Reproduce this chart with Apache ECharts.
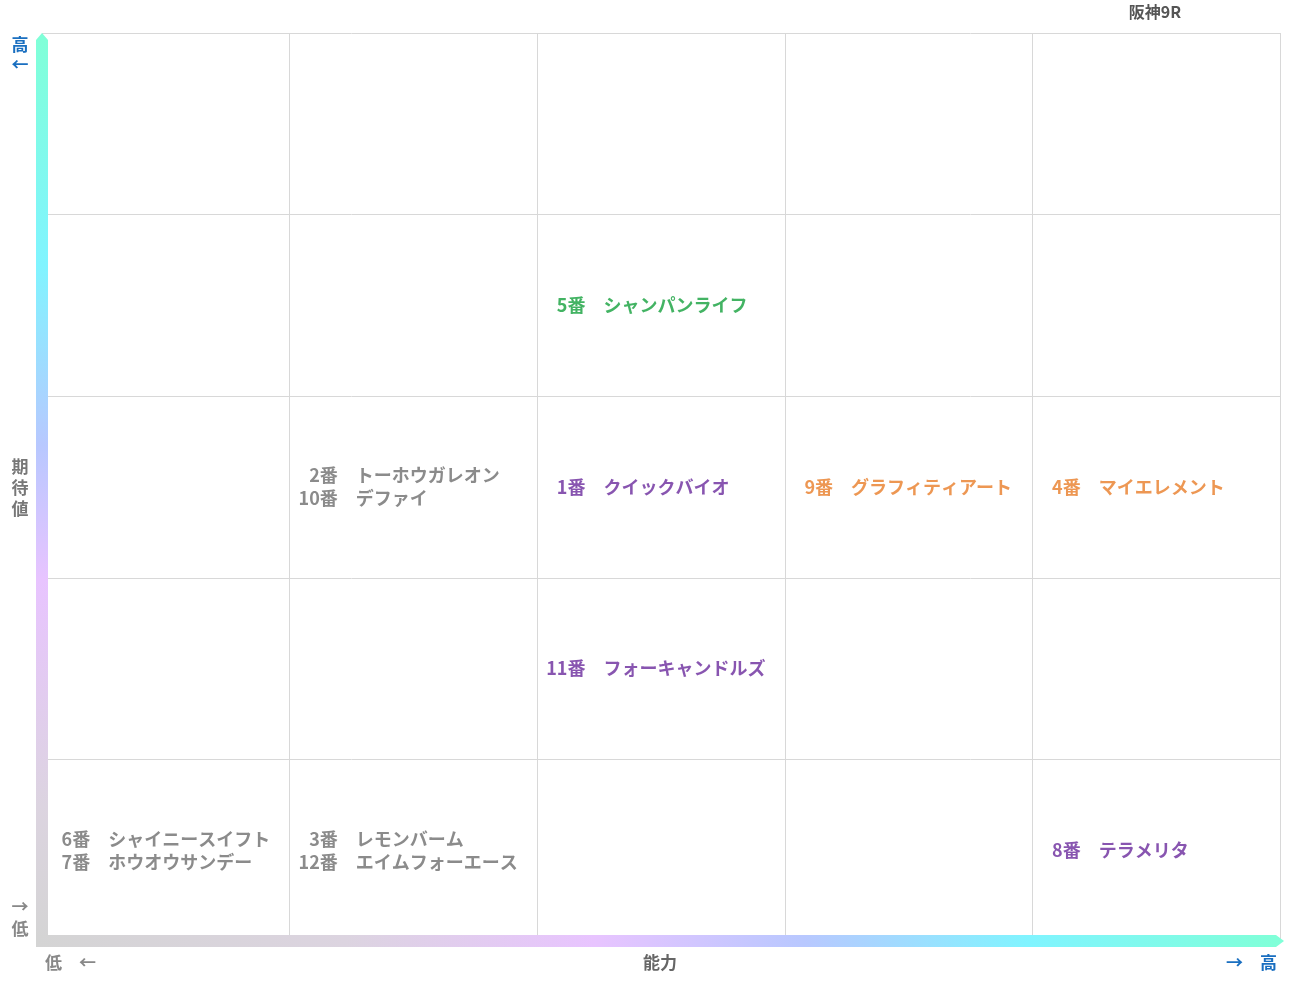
<!DOCTYPE html>
<html><head><meta charset="utf-8">
<script src="https://cdn.jsdelivr.net/npm/echarts@6/dist/echarts.min.js"></script>
<style>html,body{margin:0;padding:0;background:#fff}#c{width:1291px;height:983px}</style>
</head><body><div id="c"></div>
<script>
const xTicks = [0,1,2,3,4,5];
const labels = ['\u20075番　シャンパンライフ','\u20072番　トーホウガレオン\n10番　デファイ','\u20071番　クイックバイオ','\u20079番　グラフィティアート','\u20074番　マイエレメント','11番　フォーキャンドルズ','\u20076番　シャイニースイフト\n\u20077番　ホウオウサンデー','\u20073番　レモンバーム\n12番　エイムフォーエース','\u20078番　テラメリタ'];
const abilityCol = [3,2,3,4,5,3,1,2,5];
const expectRow = [4,3,3,3,3,2,1,1,1];
const colors = ['#14a03c','#6e6e6e','#6a2a9c','#e87d28','#e87d28','#6a2a9c','#6e6e6e','#6e6e6e','#6a2a9c'];
const data = labels.map((t,i)=>({value:[abilityCol[i]-1, expectRow[i]-0.5], label:{color:colors[i]}, name:t}));
const F = '"Noto Sans CJK JP", sans-serif';
const chart = echarts.init(document.getElementById('c'));
chart.setOption({
  animation:false,
  grid:{left:42,right:11,top:33,bottom:42},
  xAxis:{type:'value',min:0,max:5,interval:1,axisLine:{show:false},axisTick:{show:false},axisLabel:{show:false},splitLine:{lineStyle:{color:'#d8d8d8'}}},
  yAxis:{type:'value',min:0,max:5,interval:1,axisLine:{show:false},axisTick:{show:false},axisLabel:{show:false},splitLine:{lineStyle:{color:'#d8d8d8'}}},
  series:[{type:'scatter',symbolSize:0,data:data,label:{show:true,position:'right',distance:9,formatter:p=>p.name,fontFamily:F,fontWeight:'bold',fontSize:18,lineHeight:23,align:'left'}}],
  graphic:[
    {type:'rect',shape:{x:1280,y:33,width:1,height:908},style:{fill:'#d8d8d8'},z:1},
    {type:'rect',shape:{x:36,y:40,width:12,height:901},style:{fill:new echarts.graphic.LinearGradient(0,0,0,1,[{offset:0,color:'#80ffd8'},{offset:0.25,color:'#80f4ff'},{offset:0.45,color:'#b8c8ff'},{offset:0.6,color:'#e8c4ff'},{offset:0.85,color:'#dcd4e0'},{offset:1,color:'#d4d4d4'}])},z:5},
    {type:'polygon',shape:{points:[[36,40],[42,33],[48,40]]},style:{fill:'#80ffd8'},z:5},
    {type:'rect',shape:{x:36,y:935,width:1240,height:12},style:{fill:new echarts.graphic.LinearGradient(0,0,1,0,[{offset:0,color:'#d4d4d4'},{offset:0.25,color:'#dcd4e0'},{offset:0.45,color:'#e8c4ff'},{offset:0.62,color:'#b8c8ff'},{offset:0.8,color:'#80f4ff'},{offset:1,color:'#80ffd8'}])},z:5},
    {type:'polygon',shape:{points:[[1276,935],[1284,941],[1276,947]]},style:{fill:'#80ffd8'},z:5},
    {type:'text',x:20,y:55,style:{text:'高\n←',fill:'#1a6fc0',font:'bold 17px '+F,align:'center',verticalAlign:'middle',lineHeight:20}},
    {type:'text',x:20,y:488,style:{text:'期\n待\n値',fill:'#777',font:'bold 17px '+F,align:'center',verticalAlign:'middle',lineHeight:21}},
    {type:'text',x:20,y:918,style:{text:'→\n低',fill:'#888',font:'bold 17px '+F,align:'center',verticalAlign:'middle',lineHeight:22}},
    {type:'text',x:45,y:963,style:{text:'低　←',fill:'#888',font:'bold 17px '+F,verticalAlign:'middle'}},
    {type:'text',x:660,y:963,style:{text:'能力',fill:'#666',font:'bold 17px '+F,align:'center',verticalAlign:'middle'}},
    {type:'text',x:1277,y:963,style:{text:'→　高',fill:'#1a6fc0',font:'bold 17px '+F,align:'right',verticalAlign:'middle'}},
    {type:'text',x:1155,y:12,style:{text:'阪神9R',fill:'#555',font:'bold 16px '+F,align:'center',verticalAlign:'middle'}}
  ]
});
</script></body></html>
